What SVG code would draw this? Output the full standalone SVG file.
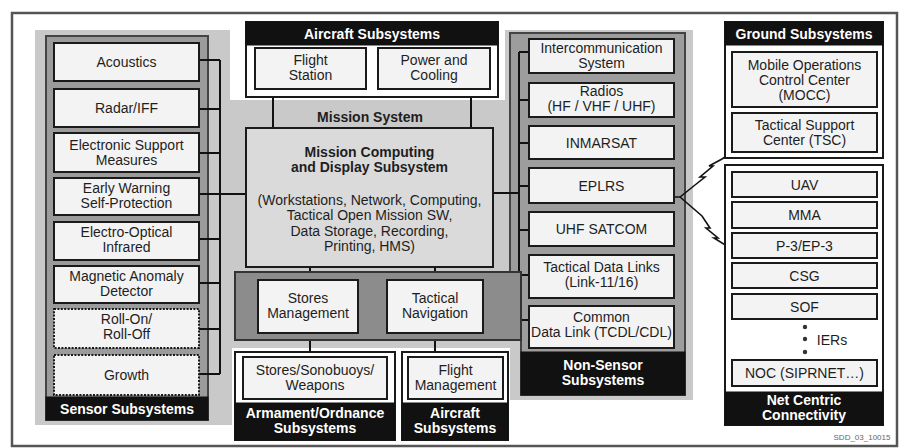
<svg xmlns="http://www.w3.org/2000/svg" width="901" height="448" viewBox="0 0 901 448">
<style>
.box{fill:#f3f3f3;stroke:#1a1a1a;stroke-width:2}
.dot{stroke-dasharray:2 1.4}
.hdr{fill:#111;stroke:#111;stroke-width:1}
.wb{fill:#fff;stroke:#1a1a1a;stroke-width:2}
.t{font-family:"Liberation Sans",Arial,sans-serif;font-size:14px;fill:#1e1e1e;text-anchor:middle}
.b{font-weight:bold}
.w{fill:#fff;font-weight:bold}
.ln{stroke:#111;stroke-width:2;fill:none}
.bolt{stroke:#111;stroke-width:1.6;fill:none;stroke-linejoin:miter}
</style>
<rect x="0" y="0" width="901" height="448" fill="#fff"/>
<rect x="12" y="13" width="885" height="433" fill="#fff" stroke="#555" stroke-width="2.5"/>

<!-- Mission System background -->
<path d="M35,30 H230 V100 H505 V30 H693 V400 H510 V348 H232 V425 H35 Z" fill="#c9c9c9"/>

<!-- panels -->
<rect x="46" y="36" width="162" height="384" fill="#9b9b9b" stroke="#444" stroke-width="2"/>
<path d="M510,33 H685 V395 H521 V340 H510 Z" fill="#9d9d9d" stroke="#444" stroke-width="2"/>

<!-- connectors -->
<g id="connectors">
<path class="ln" d="M220,60 V374 M199,60 H220 M199,109 H220 M199,153 H220 M199,194 H246 M199,239 H220 M199,283 H220 M199,329 H220 M199,374 H220"/>
<path class="ln" d="M519,52 V320 M519,52 H529 M519,100 H529 M519,143 H529 M519,186 H529 M519,230 H529 M519,275 H529 M519,320 H529 M493,193 H519"/>
<path class="ln" d="M273,89 V128 M471,89 V128"/>
<path class="ln" d="M310,267 V280 M310,333 V357 M435,267 V280 M435,333 V357"/>
<path class="bolt" d="M675,197 L680,197 L695,185 L705,177 L700,177 L713,166 L709,166 L722,159 L731,153"/>
<path class="bolt" d="M680,197 L702,216 L710,228 L706,228 L718,238 L714,238 L727,246 L733,256"/>
</g>

<!-- Sensor subsystems -->
<g id="sensor-subsystems">
<rect class="hdr" x="46" y="397" width="162" height="23"/>
<text class="t w" x="127" y="414">Sensor Subsystems</text>
</g>
<g id="acoustics"><rect class="box" x="54" y="43" width="145" height="38"/><text class="t" x="126.5" y="67">Acoustics</text></g>
<g id="radar-iff"><rect class="box" x="54" y="89" width="145" height="38"/><text class="t" x="126.5" y="113">Radar/IFF</text></g>
<g id="esm"><rect class="box" x="54" y="133" width="145" height="39"/><text class="t" x="126.5" y="150">Electronic Support</text><text class="t" x="126.5" y="165">Measures</text></g>
<g id="early-warning"><rect class="box" x="54" y="178" width="145" height="37"/><text class="t" x="126.5" y="193">Early Warning</text><text class="t" x="126.5" y="208">Self-Protection</text></g>
<g id="eo-ir"><rect class="box" x="54" y="222" width="145" height="38"/><text class="t" x="126.5" y="237">Electro-Optical</text><text class="t" x="126.5" y="252">Infrared</text></g>
<g id="mad"><rect class="box" x="54" y="266" width="145" height="37"/><text class="t" x="126.5" y="281">Magnetic Anomaly</text><text class="t" x="126.5" y="296">Detector</text></g>
<g id="roll-on"><rect class="box dot" x="54" y="309" width="145" height="39"/><text class="t" x="126.5" y="324">Roll-On/</text><text class="t" x="126.5" y="339">Roll-Off</text></g>
<g id="growth"><rect class="box dot" x="54" y="355" width="145" height="40"/><text class="t" x="126.5" y="380">Growth</text></g>

<!-- Aircraft subsystems top -->
<g id="aircraft-subsystems-top">
<rect class="wb" x="246" y="22" width="252" height="75"/>
<rect class="hdr" x="246" y="22" width="252" height="23"/>
<text class="t w" x="372" y="39">Aircraft Subsystems</text>
</g>
<g id="flight-station"><rect class="box" x="255" y="48" width="111" height="41"/><text class="t" x="310.5" y="65">Flight</text><text class="t" x="310.5" y="80">Station</text></g>
<g id="power-cooling"><rect class="box" x="378" y="48" width="112" height="41"/><text class="t" x="434" y="65">Power and</text><text class="t" x="434" y="80">Cooling</text></g>

<!-- Mission system -->
<g id="mission-system"><text class="t b" x="370" y="122">Mission System</text></g>
<g id="mcds">
<rect x="246" y="128" width="247" height="139" fill="#dadada" stroke="#1a1a1a" stroke-width="2"/>
<text class="t b" x="369.5" y="157">Mission Computing</text>
<text class="t b" x="369.5" y="172">and Display Subsystem</text>
<text class="t" x="369.5" y="205">(Workstations, Network, Computing,</text>
<text class="t" x="369.5" y="220">Tactical Open Mission SW,</text>
<text class="t" x="369.5" y="236">Data Storage, Recording,</text>
<text class="t" x="369.5" y="251">Printing, HMS)</text>
</g>
<g id="stores-nav-panel"><rect x="235" y="272" width="286" height="68" fill="#8c8c8c" stroke="#333" stroke-width="2"/></g>
<g id="stores-management"><rect class="box" x="258" y="280" width="100" height="53"/><text class="t" x="308" y="303">Stores</text><text class="t" x="308" y="318">Management</text></g>
<g id="tactical-navigation"><rect class="box" x="387" y="280" width="96" height="53"/><text class="t" x="435" y="303">Tactical</text><text class="t" x="435" y="318">Navigation</text></g>

<!-- Bottom subsystems -->
<g id="armament">
<rect class="wb" x="235" y="352" width="160" height="88"/>
<rect class="hdr" x="235" y="403" width="160" height="37"/>
<rect class="box" x="243" y="357" width="144" height="42"/>
<text class="t" x="315" y="375">Stores/Sonobuoys/</text>
<text class="t" x="315" y="390">Weapons</text>
<text class="t w" x="315" y="418">Armament/Ordnance</text>
<text class="t w" x="315" y="433">Subsystems</text>
</g>
<g id="aircraft-subsystems-bottom">
<rect class="wb" x="402" y="352" width="106" height="88"/>
<rect class="hdr" x="402" y="403" width="106" height="37"/>
<rect class="box" x="408" y="357" width="95" height="42"/>
<text class="t" x="455.5" y="375">Flight</text>
<text class="t" x="455.5" y="390">Management</text>
<text class="t w" x="455" y="418">Aircraft</text>
<text class="t w" x="455" y="433">Subsystems</text>
</g>

<!-- Non-sensor -->
<g id="non-sensor-subsystems">
<rect class="hdr" x="521" y="352" width="164" height="43"/>
<text class="t w" x="603" y="370">Non-Sensor</text>
<text class="t w" x="603" y="385">Subsystems</text>
</g>
<g id="intercom"><rect class="box" x="529" y="39" width="145" height="34"/><text class="t" x="601.5" y="53">Intercommunication</text><text class="t" x="601.5" y="68">System</text></g>
<g id="radios"><rect class="box" x="529" y="83" width="145" height="34"/><text class="t" x="601.5" y="96">Radios</text><text class="t" x="601.5" y="111">(HF / VHF / UHF)</text></g>
<g id="inmarsat"><rect class="box" x="529" y="126" width="145" height="33"/><text class="t" x="601.5" y="148">INMARSAT</text></g>
<g id="eplrs"><rect class="box" x="529" y="168" width="145" height="35"/><text class="t" x="601.5" y="191">EPLRS</text></g>
<g id="uhf-satcom"><rect class="box" x="529" y="212" width="145" height="34"/><text class="t" x="601.5" y="234">UHF SATCOM</text></g>
<g id="tdl"><rect class="box" x="529" y="255" width="145" height="43"/><text class="t" x="601.5" y="272">Tactical Data Links</text><text class="t" x="601.5" y="287">(Link-11/16)</text></g>
<g id="cdl"><rect class="box" x="529" y="306" width="145" height="42"/><text class="t" x="601.5" y="322">Common</text><text class="t" x="601.5" y="337">Data Link (TCDL/CDL)</text></g>

<!-- Ground subsystems -->
<g id="ground-subsystems">
<rect class="wb" x="725" y="22" width="158" height="136"/>
<rect class="hdr" x="725" y="22" width="158" height="23"/>
<text class="t w" x="804" y="39">Ground Subsystems</text>
</g>
<g id="mocc"><rect class="box" x="732" y="52" width="145" height="55"/><text class="t" x="804.5" y="70">Mobile Operations</text><text class="t" x="804.5" y="85">Control Center</text><text class="t" x="804.5" y="100">(MOCC)</text></g>
<g id="tsc"><rect class="box" x="732" y="113" width="145" height="39"/><text class="t" x="804.5" y="130">Tactical Support</text><text class="t" x="804.5" y="145">Center (TSC)</text></g>

<!-- Net centric -->
<g id="net-centric">
<rect class="wb" x="725" y="165" width="158" height="260"/>
<rect class="hdr" x="725" y="392" width="158" height="33"/>
<text class="t w" x="804" y="405">Net Centric</text>
<text class="t w" x="804" y="420">Connectivity</text>
</g>
<g id="uav"><rect class="box" x="732" y="172" width="145" height="25"/><text class="t" x="804.5" y="190">UAV</text></g>
<g id="mma"><rect class="box" x="732" y="202" width="145" height="26"/><text class="t" x="804.5" y="220">MMA</text></g>
<g id="p3"><rect class="box" x="732" y="233" width="145" height="25"/><text class="t" x="804.5" y="251">P-3/EP-3</text></g>
<g id="csg"><rect class="box" x="732" y="263" width="145" height="25"/><text class="t" x="804.5" y="281">CSG</text></g>
<g id="sof"><rect class="box" x="732" y="294" width="145" height="25"/><text class="t" x="804.5" y="312">SOF</text></g>
<g id="iers">
<circle cx="805" cy="327" r="2.2" fill="#333"/><circle cx="805" cy="339" r="2.2" fill="#333"/><circle cx="805" cy="352" r="2.2" fill="#333"/>
<text class="t" x="832" y="345">IERs</text>
</g>
<g id="noc"><rect class="box" x="732" y="360" width="145" height="26"/><text class="t" x="804.5" y="378">NOC (SIPRNET…)</text></g>

<text x="862" y="440" style="font-family:'Liberation Sans',Arial,sans-serif;font-size:8px;fill:#666;text-anchor:middle">SDD_03_10015</text>
</svg>
